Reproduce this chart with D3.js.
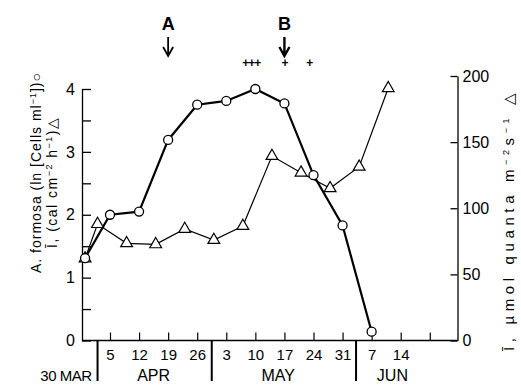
<!DOCTYPE html>
<html>
<head>
<meta charset="utf-8">
<script src="https://cdn.jsdelivr.net/npm/d3@7"></script>
<style>
  body { margin: 0; background: #fff; }
  svg { display: block; font-family: "Liberation Sans", Arial, sans-serif; }
</style>
</head>
<body>
<div id="chart"></div>
<script>
const width = 521;
const height = 386;

// A. formosa, ln cells per ml (circles, left axis)
const cellDates = ['03-30', '04-05', '04-12', '04-19', '04-26', '05-03', '05-10', '05-17', '05-24', '05-31', '06-07'];
const cellValues = [1.31, 2.00, 2.05, 3.19, 3.75, 3.81, 4.00, 3.77, 2.63, 1.83, 0.14];

// mean irradiance, umol quanta (triangles, right axis)
const lightDates = ['03-30', '04-02', '04-09', '04-16', '04-23', '04-30', '05-07', '05-14', '05-21', '05-28', '06-04', '06-11'];
const lightValues = [62, 88, 73.5, 72.7, 84.3, 76, 86.6, 139.5, 126.9, 115.1, 131.4, 190.7];

const tickDates = ['04-05', '04-12', '04-19', '04-26', '05-03', '05-10', '05-17', '05-24', '05-31', '06-07', '06-14', '06-21'];
const tickLabels = ['5', '12', '19', '26', '3', '10', '17', '24', '31', '7', '14', ''];

const monthSeps = ['04-02T00', '04-29T12', '06-03T06'];
const monthNames = ['APR', 'MAY', 'JUN'];
const monthCenters = ['04-15T12', '05-15T12', '06-12T00'];

const arrowLabels = ['A', 'B'];
const arrowDates = ['04-19', '05-17'];

const sigLabels = ['+++', '+', '+'];
const sigDates = ['05-09', '05-17', '05-23'];

const pd = d3.utcParse('%m-%d');
const pdh = d3.utcParse('%m-%dT%H');

const left = 82, right = 457.5, base = 340.5;

const x = d3.scaleUtc()
    .domain([pd('04-05'), pd('06-14')])
    .range([110, 400.7]);
x.domain([x.invert(left), x.invert(right)]).range([left, right]);

const yL = d3.scaleLinear().domain([0, 4]).range([base, 89]);
const yR = d3.scaleLinear().domain([0, 200]).range([base, 76]);

const svg = d3.select('#chart').append('svg')
    .attr('width', width)
    .attr('height', height);

// x axis
const xAxis = svg.append('g')
    .attr('transform', `translate(0,${base})`)
    .call(d3.axisBottom(x)
      .tickValues(tickDates.map(pd))
      .tickFormat((d, i) => tickLabels[i])
      .tickSizeInner(-8)
      .tickSizeOuter(0)
      .tickPadding(6));
xAxis.select('.domain').remove();
xAxis.selectAll('text').attr('font-size', 15).attr('fill', '#000').attr('dy', '0.9em');
xAxis.selectAll('line').attr('stroke', '#000').attr('stroke-width', 1.2);

svg.append('line')
    .attr('x1', left).attr('x2', right)
    .attr('y1', base).attr('y2', base)
    .attr('stroke', '#000').attr('stroke-width', 1.5);

svg.append('g')
  .selectAll('line')
  .data(monthSeps)
  .join('line')
    .attr('x1', d => x(pdh(d))).attr('x2', d => x(pdh(d)))
    .attr('y1', base).attr('y2', 381)
    .attr('stroke', '#000').attr('stroke-width', 2);

svg.append('g')
    .attr('font-size', 16)
    .attr('text-anchor', 'middle')
  .selectAll('text')
  .data(monthNames)
  .join('text')
    .attr('x', (d, i) => x(pdh(monthCenters[i])))
    .attr('y', 381)
    .text(d => d);

svg.append('text')
    .attr('x', x(pdh(monthSeps[0])) - 6)
    .attr('y', 381)
    .attr('font-size', 15)
    .attr('text-anchor', 'end')
    .attr('letter-spacing', -0.5)
    .text('30 MAR');

// left axis
const axL = svg.append('g')
    .attr('transform', `translate(${left},0)`)
    .call(d3.axisLeft(yL)
      .tickValues(d3.range(0, 4.01, 0.5))
      .tickFormat(d => Number.isInteger(d) ? d : '')
      .tickSizeInner(-9)
      .tickSizeOuter(0)
      .tickPadding(7));
axL.selectAll('text').attr('font-size', 16).attr('fill', '#000');
axL.selectAll('line, path').attr('stroke', '#000').attr('stroke-width', 1.3);

// right axis
const axR = svg.append('g')
    .attr('transform', `translate(${right},0)`)
    .call(d3.axisRight(yR)
      .tickValues([0, 50, 100, 150, 200])
      .tickSizeInner(-7)
      .tickSizeOuter(0)
      .tickPadding(5));
axR.selectAll('text').attr('font-size', 16).attr('fill', '#000');
axR.selectAll('line, path').attr('stroke', '#000').attr('stroke-width', 1.3);

// axis titles
const sup = (t, s) => { t.append('tspan').attr('font-size', 9).attr('dy', -5).text(s); };

const t1 = svg.append('text')
    .attr('transform', 'translate(41,173) rotate(-90)')
    .attr('text-anchor', 'middle')
    .attr('font-size', 14)
    .attr('textLength', 200).attr('lengthAdjust', 'spacing');
t1.append('tspan').text('A. formosa (ln [Cells ml');
sup(t1, '−1');
t1.append('tspan').attr('dy', 5).text('])○');

const t2 = svg.append('text')
    .attr('transform', 'translate(57,183) rotate(-90)')
    .attr('text-anchor', 'middle')
    .attr('font-size', 14)
    .attr('textLength', 130).attr('lengthAdjust', 'spacing');
t2.append('tspan').text('Ī, (cal cm');
sup(t2, '−2');
t2.append('tspan').attr('dy', 5).text(' h');
sup(t2, '−1');
t2.append('tspan').attr('dy', 5).text(')△');

const t3 = svg.append('text')
    .attr('transform', 'translate(514,222) rotate(-90)')
    .attr('text-anchor', 'middle')
    .attr('font-size', 15)
    .attr('textLength', 258).attr('lengthAdjust', 'spacing');
t3.append('tspan').text('Ī, µmol quanta m');
sup(t3, '−2');
t3.append('tspan').attr('dy', 5).text('s');
sup(t3, '−1');
t3.append('tspan').attr('dy', 5).text(' △');

// series
const lightData = lightDates.map((d, i) => ({ date: pd(d), value: lightValues[i] }));
const cellData = cellDates.map((d, i) => ({ date: pd(d), value: cellValues[i] }));

svg.append('path')
    .datum(lightData)
    .attr('fill', 'none')
    .attr('stroke', '#000')
    .attr('stroke-width', 1.2)
    .attr('d', d3.line().x(d => x(d.date)).y(d => yR(d.value)));

svg.append('path')
    .datum(cellData)
    .attr('fill', 'none')
    .attr('stroke', '#000')
    .attr('stroke-width', 2.2)
    .attr('d', d3.line().x(d => x(d.date)).y(d => yL(d.value)));

svg.append('g')
  .selectAll('path')
  .data(lightData)
  .join('path')
    .attr('transform', d => `translate(${x(d.date)},${yR(d.value)})`)
    .attr('d', d3.symbol(d3.symbolTriangle, 60))
    .attr('fill', '#fff')
    .attr('stroke', '#000')
    .attr('stroke-width', 1.2);

svg.append('g')
  .selectAll('circle')
  .data(cellData)
  .join('circle')
    .attr('cx', d => x(d.date))
    .attr('cy', d => yL(d.value))
    .attr('r', 4.5)
    .attr('fill', '#fff')
    .attr('stroke', '#000')
    .attr('stroke-width', 1.3);

// A / B markers
const marks = svg.append('g')
  .selectAll('g')
  .data(arrowLabels)
  .join('g')
    .attr('transform', (d, i) => `translate(${x(pd(arrowDates[i]))},0)`);
marks.append('text')
    .attr('y', 30)
    .attr('text-anchor', 'middle')
    .attr('font-size', 18)
    .attr('font-weight', 'bold')
    .text(d => d);
marks.append('path')
    .attr('d', 'M0,37V56M-5,47L0,56L5,47')
    .attr('fill', 'none')
    .attr('stroke', '#000')
    .attr('stroke-width', (d, i) => i === 1 ? 2.4 : 1.8);

svg.append('g')
    .attr('font-size', 12)
    .attr('font-weight', 'bold')
    .attr('text-anchor', 'middle')
  .selectAll('text')
  .data(sigLabels)
  .join('text')
    .attr('x', (d, i) => x(pd(sigDates[i])))
    .attr('y', 67)
    .attr('fill', '#000')
    .attr('letter-spacing', -1)
    .text(d => d);
</script>
</body>
</html>
